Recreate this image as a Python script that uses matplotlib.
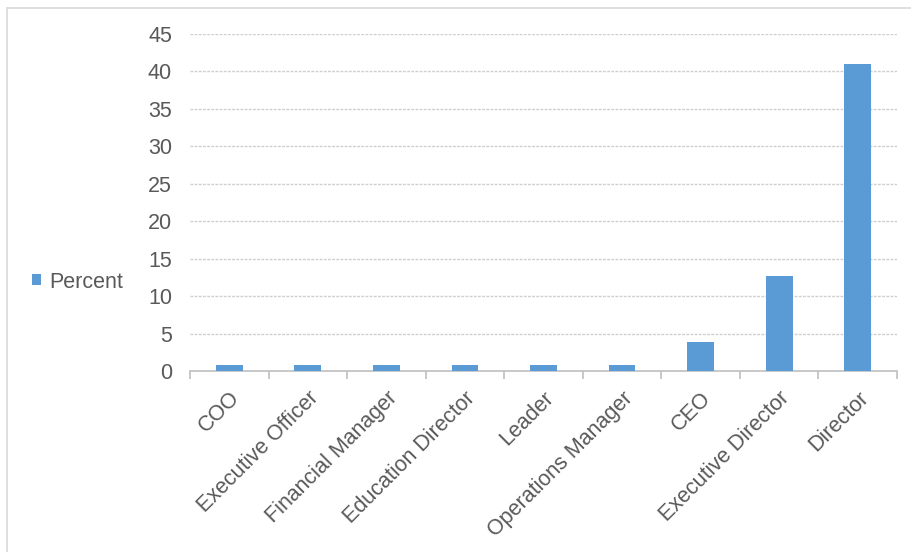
import matplotlib
matplotlib.use("Agg")
import matplotlib.pyplot as plt
from matplotlib.patches import Rectangle
import numpy as np

categories = ["COO", "Executive Officer", "Financial Manager", "Education Director",
              "Leader", "Operations Manager", "CEO", "Executive Director", "Director"]
percent = [0.8, 0.8, 0.8, 0.8, 0.8, 0.8, 3.9, 12.7, 41.0]
y_ticks = [0, 5, 10, 15, 20, 25, 30, 35, 40, 45]

plt.rcParams["font.family"] = ["Liberation Sans", "DejaVu Sans"]
text_color = "#595959"
bar_color = "#5B9BD5"
grid_color = "#cfcfcf"
fs = 15.5

W, H = 912, 552
fig = plt.figure(figsize=(W / 100, H / 100), dpi=100)

# outer chart frame (left and top edges visible)
fig.patches.append(Rectangle((7.5 / W, -0.1), 1.2, 1.1 - 8 / H,
                             transform=fig.transFigure, fill=False,
                             edgecolor="#d9d9d9", linewidth=1.2))

ax = fig.add_axes([190 / W, 1 - 371 / H, (897 - 190) / W, (371 - 34) / H])
x = np.arange(len(categories))
bars = ax.bar(x, percent, width=0.34, color=bar_color, label="Percent", zorder=3)

ax.set_xlim(-0.5, len(categories) - 0.5)
ax.set_ylim(0, 45)
ax.set_yticks(y_ticks)
ax.set_yticklabels([str(v) for v in y_ticks], fontsize=fs, color=text_color)

ax.set_xticks(x)
ax.set_xticklabels(categories, rotation=45, ha="right", rotation_mode="anchor",
                   fontsize=fs, color=text_color)
ax.tick_params(axis="x", which="major", length=0, pad=12)
ax.set_xticks(np.arange(-0.5, len(categories)), minor=True)
ax.tick_params(axis="x", which="minor", length=6, color="#bfbfbf", width=1.2)
ax.tick_params(axis="y", length=0, pad=13)

for v in y_ticks[1:]:
    ax.axhline(v, color=grid_color, linewidth=1.0, linestyle=(0, (2, 1)), zorder=1)

for side in ["top", "right", "left"]:
    ax.spines[side].set_visible(False)
ax.spines["bottom"].set_color("#bfbfbf")
ax.spines["bottom"].set_linewidth(1.2)
ax.spines["bottom"].set_linestyle((0, (2, 1)))

leg = fig.legend(handles=[bars], labels=["Percent"], loc="center left",
                 bbox_to_anchor=(13 / W, 1 - 282 / H), frameon=False,
                 fontsize=fs, handlelength=0.42, handleheight=0.42,
                 handletextpad=0.35, labelcolor=text_color)

fig.savefig("out.png", dpi=100, facecolor="white")
